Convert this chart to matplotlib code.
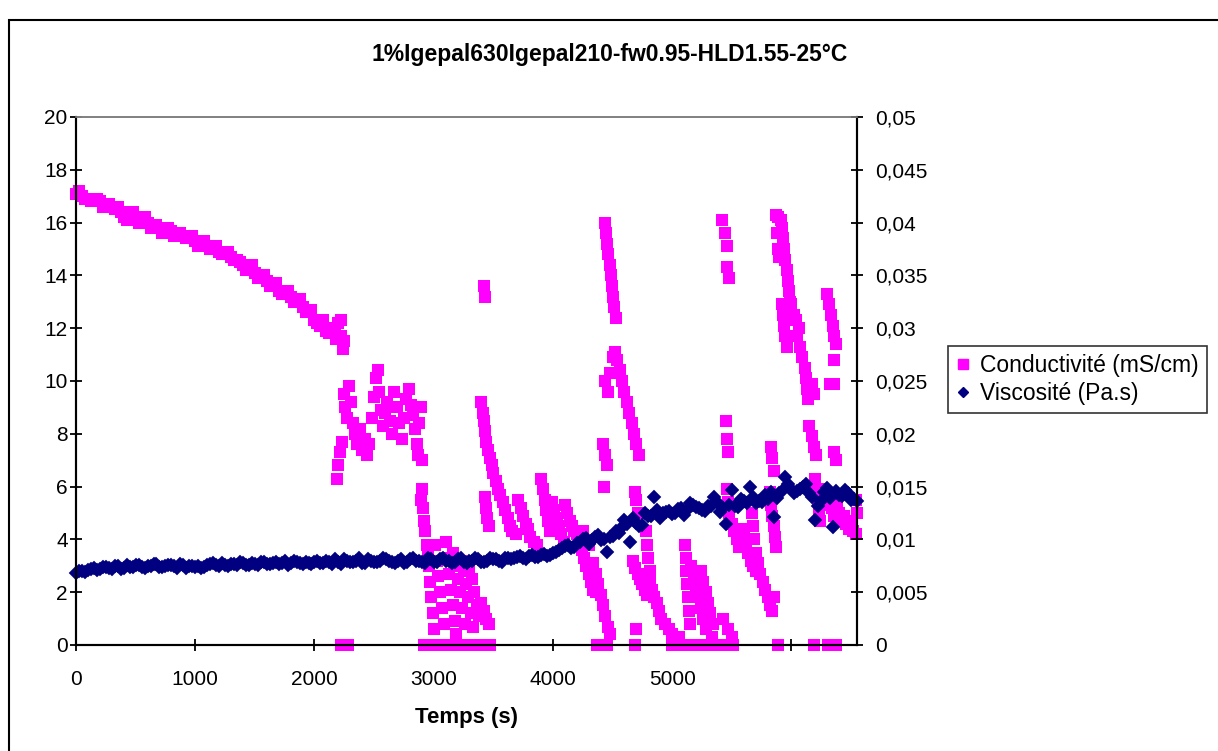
import matplotlib.pyplot as plt
import numpy as np
from matplotlib.patches import Rectangle
from matplotlib.lines import Line2D

plt.rcParams['font.family'] = ['Liberation Sans', 'DejaVu Sans']

# Conductivite (mS/cm) : points (temps s, valeur)
cond_decroissance = [
    (0, 17.1), (50, 17.0), (100, 16.9), (150, 16.8), (200, 16.8), (250, 16.7),
    (300, 16.6), (350, 16.6), (400, 16.2), (450, 16.3), (500, 16.2), (550, 16.1),
    (600, 16.0), (650, 15.9), (700, 15.8), (750, 15.7), (800, 15.7), (850, 15.6),
    (900, 15.5), (950, 15.4), (1000, 15.3), (1050, 15.2), (1100, 15.1), (1150, 15.0),
    (1200, 14.9), (1250, 14.8), (1300, 14.7), (1350, 14.6), (1400, 14.4), (1450, 14.3),
    (1500, 14.1), (1550, 13.9), (1600, 13.8), (1650, 13.6), (1700, 13.4), (1750, 13.3),
    (1800, 13.2), (1850, 13.0), (1900, 12.8), (1950, 12.6), (2000, 12.3), (2050, 12.1),
    (2100, 11.9), (2150, 11.9), (2180, 11.6), (2200, 12.2), (2220, 12.3), (2240, 11.2),
    (2250, 11.5),
]
cond_decroissance2 = [
    (25, 17.2), (75, 16.9), (125, 16.8), (175, 16.9), (225, 16.6), (275, 16.7),
    (325, 16.5), (375, 16.4), (425, 16.1), (475, 16.4), (525, 16.0), (575, 16.2),
    (625, 15.8), (675, 15.9), (725, 15.6), (775, 15.8), (825, 15.5), (875, 15.6),
    (925, 15.4), (975, 15.5), (1025, 15.1), (1075, 15.3), (1125, 15.0), (1175, 15.1),
    (1225, 14.8), (1275, 14.9), (1325, 14.6), (1375, 14.5), (1425, 14.2), (1475, 14.4),
    (1525, 13.9), (1575, 14.0), (1625, 13.6), (1675, 13.7), (1725, 13.3), (1775, 13.4),
    (1825, 13.0), (1875, 13.1), (1925, 12.6), (1975, 12.7), (2025, 12.2), (2075, 12.3),
    (2125, 11.8), (2175, 12.0), (2225, 11.7),
]
cond_plateau = [
    (2190, 6.3), (2200, 6.8), (2215, 7.3), (2230, 7.7), (2245, 9.5), (2260, 9.0),
    (2275, 8.6), (2290, 9.8), (2305, 9.2), (2320, 8.4), (2340, 8.0), (2360, 7.6),
    (2380, 8.2), (2400, 7.4), (2420, 7.8), (2440, 7.2), (2460, 7.6), (2480, 8.6),
    (2500, 9.4), (2515, 10.1), (2530, 10.4), (2545, 9.6), (2560, 8.9), (2575, 8.3),
    (2590, 8.8), (2610, 9.2), (2630, 8.5), (2650, 8.0), (2670, 9.6), (2690, 9.0),
    (2710, 8.4), (2730, 7.8), (2750, 8.6), (2770, 9.3), (2790, 9.7), (2810, 9.1),
    (2830, 8.7), (2845, 8.2), (2860, 7.6), (2870, 7.2), (2880, 8.4), (2895, 9.0),
    (2905, 7.0),
]
cond_chute3000 = [
    (2890, 5.5), (2900, 5.9), (2910, 5.2), (2920, 4.7), (2930, 4.3), (2940, 3.8),
    (2950, 3.5), (2960, 3.0), (2970, 2.4), (2980, 1.8), (2990, 1.2), (3000, 0.6),
    (3010, 3.8), (3025, 3.2), (3040, 2.6), (3055, 2.0), (3070, 1.4), (3085, 0.8),
    (3100, 3.9), (3115, 3.3), (3130, 2.7), (3145, 2.1), (3160, 1.5), (3175, 0.9),
    (3190, 0.4), (3160, 3.5), (3180, 3.0), (3200, 2.5), (3220, 2.0), (3240, 1.4),
    (3260, 0.8), (3230, 3.2), (3250, 2.8), (3270, 2.3), (3290, 1.8), (3310, 1.2),
    (3330, 0.7), (3300, 2.9), (3320, 2.5), (3340, 2.0), (3360, 1.5), (3380, 1.1),
    (3400, 1.6), (3420, 1.3), (3440, 1.0), (3460, 0.8),
]
cond_3400 = [
    (3420, 13.6), (3430, 13.2),
    (3400, 9.2), (3410, 8.8), (3420, 8.5), (3430, 8.1), (3440, 7.7), (3455, 7.4),
    (3470, 7.1), (3485, 6.8), (3500, 6.5), (3520, 6.2), (3540, 5.9), (3560, 5.7),
    (3430, 5.6), (3440, 5.2), (3450, 4.8), (3460, 4.5), (3580, 5.4), (3600, 5.1),
    (3620, 4.8), (3640, 4.5), (3660, 4.3), (3690, 4.2), (3710, 5.5), (3730, 5.2),
    (3750, 4.9), (3770, 4.6), (3790, 4.4), (3810, 4.1), (3840, 3.9), (3870, 3.8),
    (3900, 6.3), (3915, 5.9), (3930, 5.5), (3945, 5.1), (3960, 4.7), (3975, 4.3),
    (3990, 5.4), (4010, 5.1), (4030, 4.8), (4050, 4.5), (4070, 4.2), (4090, 3.9),
]
cond_4000 = [
    (4100, 5.3), (4120, 5.0), (4140, 4.7), (4160, 4.5), (4180, 4.3), (4200, 4.2),
    (4220, 3.9), (4240, 3.6), (4260, 3.3), (4280, 3.0), (4300, 2.7), (4320, 2.4),
    (4340, 2.1), (4360, 2.0), (4340, 3.1), (4360, 2.7), (4380, 2.3), (4400, 1.9),
    (4420, 1.5), (4440, 1.1), (4460, 0.7), (4480, 0.4), (4250, 4.3), (4300, 3.8),
]
cond_pic4450 = [
    (4420, 7.6), (4435, 7.2), (4450, 6.8), (4430, 6.0),
    (4435, 16.0), (4445, 15.6), (4455, 15.2), (4465, 14.8), (4475, 14.4), (4485, 14.0),
    (4495, 13.6), (4505, 13.2), (4515, 12.8), (4525, 12.4),
    (4440, 10.0), (4460, 9.6), (4480, 10.3), (4500, 10.9), (4520, 11.1), (4540, 10.8),
    (4560, 10.4), (4580, 10.0), (4600, 9.6), (4620, 9.2), (4640, 8.8), (4660, 8.4),
    (4680, 8.0), (4700, 7.6), (4720, 7.2),
    (4690, 5.8), (4700, 5.5), (4710, 5.0),
]
cond_4650 = [
    (4670, 3.2), (4690, 2.9), (4710, 2.7), (4730, 2.5), (4750, 2.3), (4770, 2.1),
    (4790, 1.9), (4810, 2.4), (4830, 2.1), (4850, 1.8), (4870, 1.6), (4890, 1.3),
    (4910, 1.0), (4940, 0.8), (4970, 0.6), (5000, 0.4), (5030, 0.3), (4780, 4.3),
    (4790, 3.8), (4800, 3.3), (4810, 2.8), (4700, 0.6), (5060, 0.3),
]
cond_5100 = [
    (5110, 3.8), (5115, 3.3), (5120, 2.8), (5125, 2.3), (5130, 1.8), (5140, 1.3),
    (5150, 0.8), (5160, 3.0), (5180, 2.6), (5200, 2.2), (5220, 1.8), (5240, 1.4),
    (5260, 1.0), (5280, 0.6), (5240, 2.8), (5260, 2.4), (5280, 2.0), (5300, 1.6),
    (5320, 1.2), (5340, 0.8), (5330, 0.3),
]
cond_5400 = [
    (5420, 16.1), (5440, 15.6), (5460, 15.1), (5460, 14.3), (5480, 13.9),
    (5450, 8.5), (5460, 7.8), (5470, 7.3),
    (5430, 1.0), (5470, 0.6), (5500, 0.3),
    (5460, 5.9), (5470, 5.4), (5480, 5.0), (5500, 4.6), (5520, 4.3), (5540, 4.0),
    (5560, 3.7), (5580, 4.4), (5600, 4.1), (5620, 3.8), (5640, 3.5), (5660, 3.2),
    (5680, 3.0), (5700, 2.8),
    (5670, 5.0), (5680, 4.5), (5690, 4.0), (5700, 3.5), (5720, 3.1), (5740, 2.7),
    (5760, 2.4), (5780, 2.1), (5800, 1.8), (5820, 1.5), (5840, 1.3), (5850, 1.8),
    (5820, 5.8), (5830, 5.3), (5840, 4.9), (5850, 4.5), (5860, 4.1), (5870, 3.7),
    (5830, 7.5), (5840, 7.1), (5850, 6.6),
]
cond_5900 = [
    (5870, 16.3), (5890, 16.2), (5910, 16.1), (5920, 15.8), (5930, 15.4), (5940, 15.0),
    (5950, 14.6), (5880, 15.6), (5890, 15.0), (5900, 14.7),
    (5960, 14.2), (5970, 13.8), (5980, 13.4), (5990, 13.0), (5920, 12.9), (5930, 12.5),
    (5940, 12.1), (5950, 11.7), (5960, 11.3),
    (6000, 12.9), (6020, 12.5), (6040, 12.3), (6060, 12.0), (6050, 11.7), (6070, 11.3),
    (6090, 10.9), (6110, 10.5), (6120, 10.1), (6130, 9.7), (6140, 9.3), (6170, 9.9),
    (6190, 9.5), (6150, 8.3), (6170, 7.9), (6190, 7.5), (6210, 7.2),
    (6200, 6.3), (6210, 5.9), (6220, 5.5), (6230, 5.1), (6240, 4.7),
]
cond_6250 = [
    (6260, 5.9), (6280, 5.6), (6300, 5.3), (6320, 5.6), (6340, 5.2), (6360, 4.9),
    (6380, 5.4), (6400, 5.0), (6420, 4.7), (6440, 4.9), (6460, 4.6), (6480, 4.4),
    (6500, 4.7), (6520, 4.3), (6540, 4.2), (6550, 5.0), (6545, 5.5),
    (6300, 13.3), (6315, 12.9), (6330, 12.5), (6345, 12.1), (6360, 11.7), (6375, 11.4),
    (6360, 10.8), (6360, 9.9), (6360, 7.3), (6370, 7.0), (6320, 9.9),
]
cond_zero_t = [2220, 2280, 2915,
               3020, 3050, 3080, 3110, 3140, 3170, 3200, 3230, 3260, 3290, 3320,
               3350, 3380, 3410, 3440, 3470,
               4370, 4450, 4690,
               5000, 5030, 5060, 5090, 5120, 5150, 5180, 5210, 5240, 5270, 5300,
               5330, 5360, 5390, 5420, 5450, 5480, 5510,
               5890, 6190, 6310, 6370]

cond_segments = [cond_decroissance, cond_decroissance2, cond_plateau,
                 cond_chute3000, cond_3400, cond_4000, cond_pic4450, cond_4650,
                 cond_5100, cond_5400, cond_5900, cond_6250]

# Viscosite (Pa.s) en 1e-3, un point toutes les 50 s
visc_t = np.arange(0, 6551, 50)
visc_v = [
    6.8, 7.0, 7.1, 7.3, 7.2, 7.4, 7.2, 7.5, 7.3, 7.4, 7.6,
    7.4, 7.5, 7.7, 7.4, 7.5, 7.6, 7.3, 7.6, 7.5, 7.4,
    7.3, 7.6, 7.8, 7.5, 7.6, 7.7, 7.6, 7.8, 7.6, 7.7,
    7.9, 7.7, 7.8, 7.7, 8.0, 7.8, 7.9, 7.7, 7.8, 7.9,
    7.8, 8.0, 7.7, 7.9, 8.1, 7.9, 8.0, 7.8, 8.1, 7.9,
    8.0, 8.1, 7.9, 8.0, 7.8, 8.1, 8.0, 7.9, 8.2, 7.9,
    8.1, 8.0, 7.8, 8.1, 7.9, 8.0, 8.2, 7.9, 8.0, 8.1,
    8.0, 8.2, 8.1, 8.3, 8.2, 8.4, 8.3, 8.5, 8.4, 8.7,
    9.0, 9.4, 9.2, 9.7, 10.0, 9.6, 10.2, 9.9, 8.8, 10.3,
    10.6, 11.8, 9.8, 11.6, 11.4, 12.2, 14.0, 12.0, 12.6, 12.4,
    12.9, 12.3, 13.4, 13.1, 12.8, 13.2, 14.0, 12.6, 11.5, 14.7,
    13.1, 13.6, 15.0, 13.4, 13.5, 13.8, 12.1, 14.4, 15.9, 14.8,
    14.6, 15.0, 14.4, 11.8, 13.6, 14.9, 11.2, 14.2, 14.7, 13.7,
    13.6,
]
# points intermediaires (decales de 25 s)
visc_t2 = np.arange(25, 6526, 50)
visc_v2 = [
    7.0, 6.9, 7.2, 7.1, 7.4, 7.3, 7.5, 7.2, 7.6, 7.4,
    7.6, 7.3, 7.5, 7.7, 7.4, 7.6, 7.5, 7.7, 7.3, 7.5,
    7.5, 7.4, 7.7, 7.6, 7.8, 7.5, 7.7, 7.9, 7.6, 7.8,
    7.6, 7.9, 7.7, 7.9, 7.8, 7.6, 8.0, 7.8, 7.9, 7.7,
    8.0, 7.8, 7.9, 8.1, 7.7, 8.0, 7.9, 8.2, 7.8, 8.0,
    7.9, 8.2, 8.0, 7.8, 8.1, 7.9, 8.2, 8.0, 7.8, 8.1,
    7.9, 8.2, 8.0, 7.9, 8.2, 7.8, 8.0, 8.1, 7.9, 8.2,
    8.1, 7.9, 8.2, 8.2, 8.4, 8.1, 8.5, 8.3, 8.6, 8.5,
    8.8, 9.2, 9.5, 9.3, 9.8, 10.1, 9.9, 10.4, 10.0, 10.2,
    10.8, 11.2, 11.5, 12.0, 11.3, 12.5, 12.2, 12.8, 12.5, 12.7,
    12.5, 13.0, 12.8, 13.3, 13.0, 12.7, 13.2, 13.5, 13.0, 13.3,
    13.2, 13.8, 13.4, 14.0, 13.6, 14.2, 14.5, 13.9, 14.6, 15.2,
    14.4, 14.8, 15.2, 14.0, 13.2, 14.5, 13.9, 14.6, 14.1, 14.4,
    13.8,
]

W, H = 1218, 751
fig = plt.figure(figsize=(W / 100, H / 100), dpi=100)
fig.patches.append(Rectangle((9 / W, -0.05), 1.1, (H - 20) / H + 0.05,
                             transform=fig.transFigure, fill=False,
                             edgecolor='black', lw=1.5))

ax = fig.add_axes([76 / W, (H - 645) / H, (857 - 76) / W, (645 - 117) / H])
ax2 = ax.twinx()

pink = '#FF00FF'
navy = '#000080'

ct = []
cv = []
for seg in cond_segments:
    for t, v in seg:
        ct.append(t)
        cv.append(v)
ct += cond_zero_t
cv += [0] * len(cond_zero_t)
ax.plot(ct, cv, ls='none', marker='s', ms=9, mfc=pink, mec=pink, mew=0,
        clip_on=False, antialiased=False)

vt = list(visc_t) + list(visc_t2)
vv = np.array(list(visc_v) + list(visc_v2)) * 1e-3
ax2.plot(vt, vv, ls='none', marker='D', ms=7.5, mfc=navy, mec=navy, mew=0.3,
         clip_on=False)

ax.set_xlim(0, 6550)
ax.set_ylim(0, 20)
ax2.set_ylim(0, 0.05)

ax.set_xticks(range(0, 6001, 1000))
ax.set_xticklabels(['0', '1000', '2000', '3000', '4000', '5000', ''])
ax.set_yticks(range(0, 21, 2))
r_ticks = [i * 0.005 for i in range(11)]
ax2.set_yticks(r_ticks)
ax2.set_yticklabels(['0', '0,005', '0,01', '0,015', '0,02', '0,025', '0,03',
                     '0,035', '0,04', '0,045', '0,05'])

for a in (ax, ax2):
    for s in a.spines.values():
        s.set_linewidth(1.5)
        s.set_color('black')
    a.spines['top'].set_color('#808080')
    a.spines['top'].set_linewidth(1.2)

ax.tick_params(axis='y', direction='inout', length=8, width=1.3, labelsize=15, pad=2)
ax.tick_params(axis='x', direction='inout', length=8, width=1.3, labelsize=15, pad=14)
ax2.tick_params(axis='y', direction='inout', length=8, width=1.3, labelsize=15, pad=9)

fig.text(610 / W, 1 - 55 / H, '1%Igepal630Igepal210-fw0.95-HLD1.55-25°C',
         ha='center', va='center', fontsize=16.5, fontweight='bold')
fig.text(467 / W, 1 - 718 / H, 'Temps (s)', ha='center', va='center',
         fontsize=16, fontweight='bold')

handles = [Line2D([], [], ls='none', marker='s', ms=7.5, mfc=pink, mec=pink),
           Line2D([], [], ls='none', marker='D', ms=5, mfc=navy, mec=navy)]
leg = ax2.legend(handles, ['Conductivité (mS/cm)', 'Viscosité (Pa.s)'],
                 loc='upper left', bbox_to_anchor=(948 / W, 1 - 346 / H),
                 bbox_transform=fig.transFigure, frameon=True, fancybox=False,
                 edgecolor='black', fontsize=16.5, handlelength=0.6,
                 handletextpad=0.45, borderpad=0.35, labelspacing=0.2,
                 borderaxespad=0)
leg.get_frame().set_linewidth(1.2)

fig.savefig('out.png', dpi=100)
